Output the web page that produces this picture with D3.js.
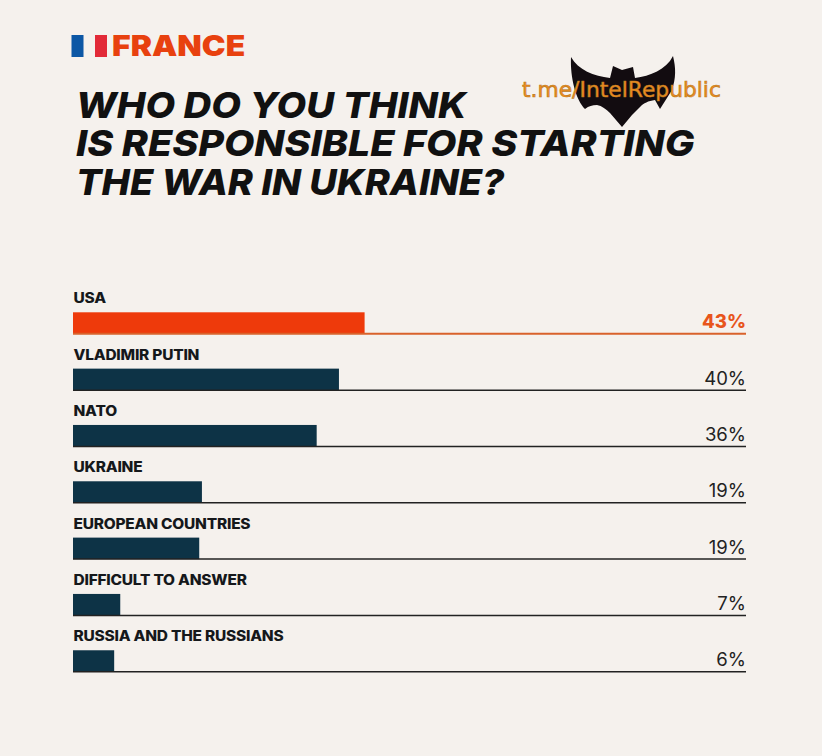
<!DOCTYPE html>
<html><head><meta charset="utf-8">
<script src="https://cdn.jsdelivr.net/npm/d3@7"></script>
<style>html,body{margin:0;padding:0;background:#f5f1ed}svg{display:block}</style>
</head><body><div id="c"></div>
<script>
const categories=["USA","VLADIMIR PUTIN","NATO","UKRAINE","EUROPEAN COUNTRIES","DIFFICULT TO ANSWER","RUSSIA AND THE RUSSIANS"];
const values=[43.2,39.4,36.1,19.1,18.7,7,6.1];
const labels=["43%","40%","36%","19%","19%","7%","6%"];
const titleLines=["WHO DO YOU THINK","IS RESPONSIBLE FOR STARTING","THE WAR IN UKRAINE?"];
const W=822,H=756;
const svg=d3.select("#c").append("svg").attr("width",W).attr("height",H);
svg.append("rect").attr("width",W).attr("height",H).attr("fill","#f5f1ed");
const font="Inter, 'Liberation Sans', sans-serif";
const x=d3.scaleLinear().domain([0,100]).range([73,748]);
const y=d3.scaleBand().domain(categories).range([294.3,688.6]).padding(0);
// flag + header
svg.append("rect").attr("x",71.5).attr("y",35).attr("width",12).attr("height",22).attr("fill","#0c57a5");
svg.append("rect").attr("x",95).attr("y",35).attr("width",12).attr("height",22).attr("fill","#e22a38");
svg.append("text").attr("transform","translate(112,56) scale(1.12,1)").attr("font-family",font).attr("font-weight",900).attr("font-size",28.5).attr("fill","#e8410f").text("FRANCE");
// title
svg.append("g").selectAll("text").data(titleLines).join("text")
 .attr("transform",(d,i)=>`translate(76,${117.5+i*38.5}) scale(${[1.068,1.094,1.052][i]},1)`).attr("font-family",font).attr("font-weight",800).attr("font-style","italic")
 .attr("font-size",36).attr("fill","#111").text(d=>d);
// rows
const rows=svg.append("g").selectAll("g").data(categories).join("g")
 .attr("transform",d=>`translate(0,${y(d)})`);
rows.append("text").attr("transform","translate(73.5,9) scale(1.105,1)").attr("font-family",font).attr("font-weight",800)
 .attr("font-size",14).attr("fill","#15181b").attr("letter-spacing",-0.2).text(d=>d);
rows.append("rect").attr("x",x(0)).attr("y",18).attr("height",21.5)
 .attr("width",(d,i)=>x(values[i])-x(0)).attr("fill",(d,i)=>i===0?"#ee3a0b":"#0d3346");
rows.append("line").attr("x1",x(0)).attr("x2",746).attr("y1",39.5).attr("y2",39.5)
 .attr("stroke",(d,i)=>i===0?"#d9622b":"#222").attr("stroke-width",(d,i)=>i===0?2:1.5);
rows.append("text").attr("x",746).attr("y",34).attr("text-anchor","end").attr("font-family",font)
 .attr("font-weight",(d,i)=>i===0?800:400).attr("font-size",18.5).attr("fill",(d,i)=>i===0?"#e8551c":"#222")
 .text((d,i)=>labels[i]);
// watermark
svg.append("path").attr("fill","#120c10")
 .attr("d","M571,57 C578,70 594,76 610,78 L613,66 L622,70 L633,67 L635,78 C650,76 666,70 673,56 C676,68 676,78 672,90 L660,109 L655,100 C648,101 644,103 640,107 L632,115 L622,127 L610,113 C606,109 602,106 597,105 C592,105 589,106 585,109 C576,100 570,78 571,57 Z");
svg.append("text").attr("x",522).attr("y",97).attr("font-family","'DejaVu Sans',sans-serif").attr("font-size",21.8).attr("font-weight",400)
 .attr("fill","#f08c20").attr("stroke","#b87a22").attr("stroke-width",0.6).text("t.me/IntelRepublic");
</script></body></html>
